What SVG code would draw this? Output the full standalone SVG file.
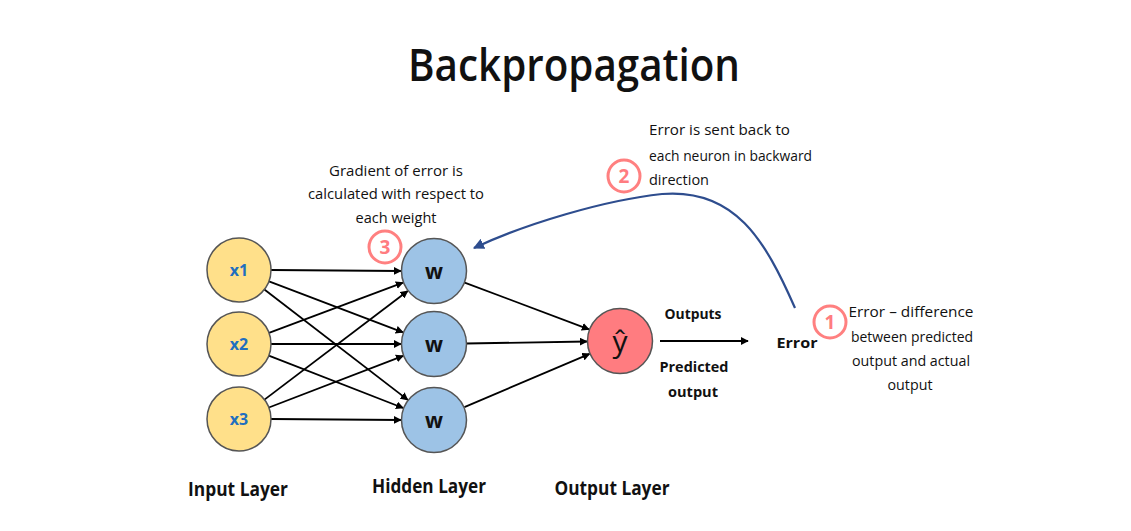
<svg xmlns="http://www.w3.org/2000/svg" width="1131" height="531" viewBox="0 0 1131 531">
<defs>
<marker id="ah" viewBox="0 0 10 10" refX="9" refY="5" markerWidth="8" markerHeight="8" markerUnits="userSpaceOnUse" orient="auto">
<path d="M0,0 L10,5 L0,10 z" fill="#000"/>
</marker>
<marker id="ahb" viewBox="0 0 10 10" refX="9" refY="5" markerWidth="11" markerHeight="11" markerUnits="userSpaceOnUse" orient="auto">
<path d="M0,0 L10,5 L0,10 z" fill="#2E4D8E"/>
</marker>
</defs>
<style>
text{font-family:"Open Sans","Liberation Sans",sans-serif;fill:#111}
.e{stroke:#000;stroke-width:1.8;fill:none;marker-end:url(#ah)}
.in{fill:#FFE08A;stroke:#555;stroke-width:1.5}
.hid{fill:#9DC3E6;stroke:#555;stroke-width:1.5}
.out{fill:#FF7C80;stroke:#555;stroke-width:1.5}
.badge{fill:#fff;stroke:#FF8080;stroke-width:3}
.bn{fill:#FF7C80;font-weight:bold;font-size:19px;text-anchor:middle}
.nl{font-size:15px;text-anchor:middle}
.lyr{font-size:19px;font-weight:bold;text-anchor:middle}
.xl{fill:#1F6FBF;font-weight:bold;font-size:16px;text-anchor:middle}
.wl{font-weight:bold;font-size:21px;text-anchor:middle}
</style>
<rect width="1131" height="531" fill="#fff"/>
<text x="574" y="81" font-size="46" font-weight="600" text-anchor="middle" textLength="332" lengthAdjust="spacingAndGlyphs">Backpropagation</text>

<g id="connectors">
<line class="e" x1="271" y1="270" x2="401" y2="271"/>
<line class="e" x1="269" y1="281.4" x2="403" y2="332.3"/>
<line class="e" x1="264.4" y1="289.5" x2="407.8" y2="399.9"/>
<line class="e" x1="269" y1="332.8" x2="403" y2="282.6"/>
<line class="e" x1="271" y1="344" x2="401" y2="344"/>
<line class="e" x1="268.8" y1="355.6" x2="403.2" y2="408"/>
<line class="e" x1="264.5" y1="399.6" x2="407.7" y2="291"/>
<line class="e" x1="268.9" y1="407.5" x2="403.2" y2="355.8"/>
<line class="e" x1="271" y1="419" x2="401" y2="420"/>
<line class="e" x1="464" y1="282.3" x2="589" y2="329.4"/>
<line class="e" x1="466" y1="343.5" x2="587" y2="341.5"/>
<line class="e" x1="464.4" y1="407.1" x2="589.6" y2="353.9"/>
<line class="e" x1="660" y1="341" x2="748" y2="341"/>
<path d="M795,308 C765,240 735,188 662,194 C605,200 525,224 474,248" fill="none" stroke="#2E4D8E" stroke-width="2.2" marker-end="url(#ahb)"/>
</g>

<g id="x1"><circle class="in" cx="239" cy="270" r="32"/><text class="xl" x="239" y="276">x1</text></g>
<g id="x2"><circle class="in" cx="239" cy="344" r="32"/><text class="xl" x="239" y="350">x2</text></g>
<g id="x3"><circle class="in" cx="239" cy="419" r="32"/><text class="xl" x="239" y="425">x3</text></g>
<g id="h1"><circle class="hid" cx="434" cy="271" r="32.5"/><text class="wl" x="434" y="279">w</text></g>
<g id="h2"><circle class="hid" cx="434" cy="344" r="32.5"/><text class="wl" x="434" y="352">w</text></g>
<g id="h3"><circle class="hid" cx="434" cy="420" r="32.5"/><text class="wl" x="434" y="428">w</text></g>
<g id="out"><circle class="out" cx="620" cy="341" r="32.5"/><text x="620" y="352" font-size="30" text-anchor="middle">ŷ</text></g>

<g id="badge3"><circle class="badge" cx="385" cy="247" r="16"/><text class="bn" x="385" y="254">3</text></g>
<g id="badge2"><circle class="badge" cx="624" cy="176" r="16"/><text class="bn" x="624" y="183">2</text></g>
<g id="badge1"><circle class="badge" cx="830" cy="322" r="16"/><text class="bn" x="830" y="329">1</text></g>

<g id="labels">
<text class="nl" x="396" y="176" textLength="134" lengthAdjust="spacingAndGlyphs">Gradient of error is</text>
<text class="nl" x="396" y="199" textLength="176" lengthAdjust="spacingAndGlyphs">calculated with respect to</text>
<text class="nl" x="396" y="223" textLength="81" lengthAdjust="spacingAndGlyphs">each weight</text>
<text font-size="15" x="649" y="135" textLength="141" lengthAdjust="spacingAndGlyphs">Error is sent back to</text>
<text font-size="15" x="649" y="161" textLength="163" lengthAdjust="spacingAndGlyphs">each neuron in backward</text>
<text font-size="15" x="649" y="185" textLength="60" lengthAdjust="spacingAndGlyphs">direction</text>
<text class="nl" x="911" y="317" textLength="125" lengthAdjust="spacingAndGlyphs">Error – difference</text>
<text class="nl" x="912" y="342" textLength="122" lengthAdjust="spacingAndGlyphs">between predicted</text>
<text class="nl" x="911" y="366" textLength="118" lengthAdjust="spacingAndGlyphs">output and actual</text>
<text class="nl" x="910" y="390" textLength="45" lengthAdjust="spacingAndGlyphs">output</text>
<text x="797" y="348" font-size="15" font-weight="bold" text-anchor="middle" textLength="41" lengthAdjust="spacingAndGlyphs">Error</text>
<text x="693" y="319" font-size="15" font-weight="bold" text-anchor="middle" textLength="57" lengthAdjust="spacingAndGlyphs">Outputs</text>
<text x="694" y="372" font-size="15" font-weight="bold" text-anchor="middle" textLength="69" lengthAdjust="spacingAndGlyphs">Predicted</text>
<text x="693" y="397" font-size="15" font-weight="bold" text-anchor="middle" textLength="50" lengthAdjust="spacingAndGlyphs">output</text>
<text class="lyr" x="238" y="496" textLength="100" lengthAdjust="spacingAndGlyphs">Input Layer</text>
<text class="lyr" x="429" y="493" textLength="114" lengthAdjust="spacingAndGlyphs">Hidden Layer</text>
<text class="lyr" x="612" y="495" textLength="115" lengthAdjust="spacingAndGlyphs">Output Layer</text>
</g>
</svg>
